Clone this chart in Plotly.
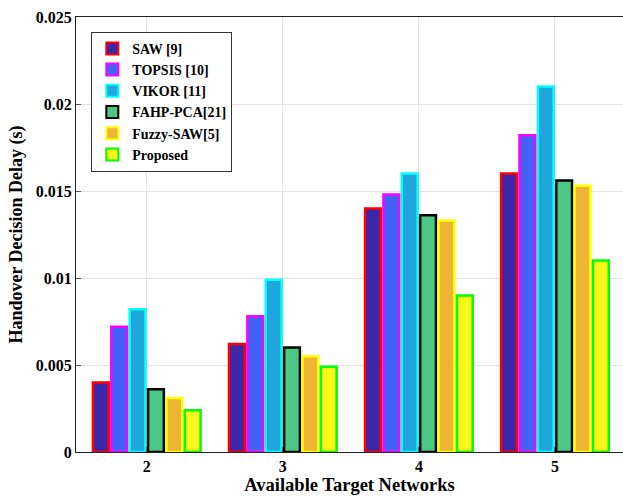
import plotly.graph_objects as go

categories = ["2", "3", "4", "5"]
series_names = ["SAW [9]", "TOPSIS [10]", "VIKOR [11]", "FAHP-PCA[21]", "Fuzzy-SAW[5]", "Proposed"]
saw = [0.0040, 0.0062, 0.0140, 0.0160]
topsis = [0.0072, 0.0078, 0.0148, 0.0182]
vikor = [0.0082, 0.0099, 0.0160, 0.0210]
fahp = [0.0036, 0.0060, 0.0136, 0.0156]
fuzzy = [0.0031, 0.0055, 0.0133, 0.0153]
proposed = [0.0024, 0.0049, 0.0090, 0.0110]
y_ticks = [0, 0.005, 0.01, 0.015, 0.02, 0.025]
y_tick_labels = ["0", "0.005", "0.01", "0.015", "0.02", "0.025"]

fills = ["#3E26A8", "#4462F5", "#1FA6DD", "#4CC886", "#EDB436", "#F7F71C"]
borders = ["#FF0000", "#FF00FF", "#00FFFF", "#000000", "#FFFF00", "#00FF00"]
all_series = [saw, topsis, vikor, fahp, fuzzy, proposed]

FONT = "Liberation Serif"

fig = go.Figure()
for name, vals, fc, bc in zip(series_names, all_series, fills, borders):
    fig.add_trace(go.Bar(
        x=categories, y=vals, name=name,
        marker=dict(color=fc, line=dict(color=bc, width=2.5)),
    ))

fig.update_layout(
    width=623, height=503,
    margin=dict(l=76, r=0, t=17, b=51),
    paper_bgcolor="white", plot_bgcolor="white",
    barmode="group", bargap=0.19, bargroupgap=0.14,
    font=dict(family=FONT, color="black"),
    legend=dict(
        x=0.028, y=0.966, xanchor="left", yanchor="top",
        bgcolor="white", bordercolor="#333", borderwidth=1,
        font=dict(family=FONT, size=14, color="black", weight="bold"),
        tracegroupgap=0, itemsizing="constant",
    ),
    xaxis=dict(
        type="category", range=[-0.52, 3.5],
        showline=True, linecolor="#222", linewidth=1, mirror=True,
        showgrid=True, gridcolor="#e3e3e3", gridwidth=1,
        ticks="inside", ticklen=5, tickcolor="#555",
        tickfont=dict(family=FONT, size=16, color="black", weight="bold"),
        title=dict(text="Available Target Networks", standoff=2,
                   font=dict(family=FONT, size=18.5, color="black", weight="bold")),
    ),
    yaxis=dict(
        range=[0, 0.025], tickvals=y_ticks, ticktext=y_tick_labels,
        showline=True, linecolor="#222", linewidth=1, mirror=True,
        showgrid=True, gridcolor="#e3e3e3", gridwidth=1, zeroline=False,
        ticks="inside", ticklen=5, tickcolor="#555",
        tickfont=dict(family=FONT, size=16, color="black", weight="bold"),
        title=dict(text="Handover Decision Delay (s)", standoff=8,
                   font=dict(family=FONT, size=18, color="black", weight="bold")),
    ),
)

fig.write_html("out.html")
